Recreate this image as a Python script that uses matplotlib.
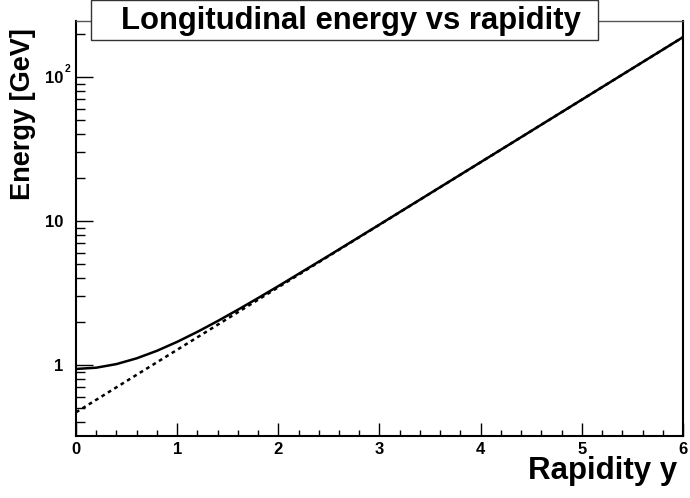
import numpy as np
import matplotlib.pyplot as plt
import matplotlib.transforms as mtransforms
from matplotlib.patches import Rectangle
from matplotlib.ticker import LogLocator, FixedLocator, MultipleLocator, NullFormatter

plt.rcParams['font.family'] = ['Liberation Sans', 'DejaVu Sans']
plt.rcParams['font.weight'] = 'bold'

# values
rap = [0, 0.2, 0.4, 0.6, 0.8, 1.0, 1.2, 1.4, 1.6, 1.8, 2.0, 2.5, 3.0, 3.5, 4.0, 4.5, 5.0, 5.5, 6.0]
energy = [0.938, 0.957, 1.014, 1.112, 1.254, 1.447, 1.698, 2.018, 2.418, 2.915, 3.529,
          5.752, 9.444, 15.55, 25.62, 42.22, 69.61, 114.8, 189.2]
rap_approx = [0, 1, 2, 3, 4, 5, 6]
energy_approx = [0.469, 1.275, 3.466, 9.42, 25.6, 69.6, 189.2]
x_ticks = [0, 1, 2, 3, 4, 5, 6]
y_ticks = [1, 10, 100]
y_labels = ['1', '10', '10']

fig = plt.figure(figsize=(6.9, 4.98), dpi=100)
ax = fig.add_axes([76 / 690, 1 - 436 / 498, 607 / 690, 415 / 498])

ax.plot(rap, energy, color='black', lw=1.8)
ax.plot(rap_approx, energy_approx, color='black', lw=1.8, linestyle=(0, (1.5, 1.5)))

ax.set_yscale('log')
ax.set_xlim(0, 6)
ax.set_ylim(0.321, 245)

ax.set_xticks(x_ticks, [str(t) for t in x_ticks])
ax.xaxis.set_minor_locator(MultipleLocator(0.2))
ax.yaxis.set_major_locator(FixedLocator(y_ticks))
ax.yaxis.set_minor_locator(LogLocator(base=10, subs=np.arange(2, 10)))
ax.yaxis.set_minor_formatter(NullFormatter())
ax.set_yticklabels(y_labels)

ax.tick_params(axis='x', which='major', direction='in', length=9.5, width=1, pad=4,
               labelsize=12, top=False)
ax.tick_params(axis='x', which='minor', direction='in', length=4.5, width=1, top=False)
ax.tick_params(axis='y', which='major', direction='in', length=12.5, width=1, pad=9,
               labelsize=12, right=False)
ax.tick_params(axis='y', which='minor', direction='in', length=6.5, width=1, right=False)
for lab in ax.get_xticklabels() + ax.get_yticklabels():
    lab.set_fontweight('bold')

# small exponent of the 10^2 label, ROOT style
trans = mtransforms.blended_transform_factory(ax.transAxes, ax.transData)
ax.annotate('2', xy=(0, y_ticks[2]), xycoords=trans, xytext=(-8.3, 2.5),
            textcoords='offset points', fontsize=7.5, fontweight='bold',
            ha='left', va='bottom', annotation_clip=False)

for s in ['left', 'bottom', 'right']:
    ax.spines[s].set_linewidth(1.5)
ax.spines['top'].set_linewidth(1)
ax.spines['top'].set_color('#555555')

# title box
fig.patches.append(Rectangle((91 / 690, 1 - 40 / 498), 507 / 690, 40 / 498,
                             transform=fig.transFigure, facecolor='white',
                             edgecolor='#333333', lw=1, zorder=5))
fig.text(351 / 690, 1 - 21 / 498, 'Longitudinal energy vs rapidity', ha='center',
         va='center', fontsize=22.3, fontweight='bold', zorder=6)

fig.text(677 / 690, 1 - 471 / 498, 'Rapidity y', ha='right', va='center',
         fontsize=22.5, fontweight='bold')
fig.text(23 / 690, 1 - 28 / 498, 'Energy [GeV]', ha='center', va='top', rotation=90,
         fontsize=19.5, fontweight='bold')

fig.savefig('out.png', dpi=100)
